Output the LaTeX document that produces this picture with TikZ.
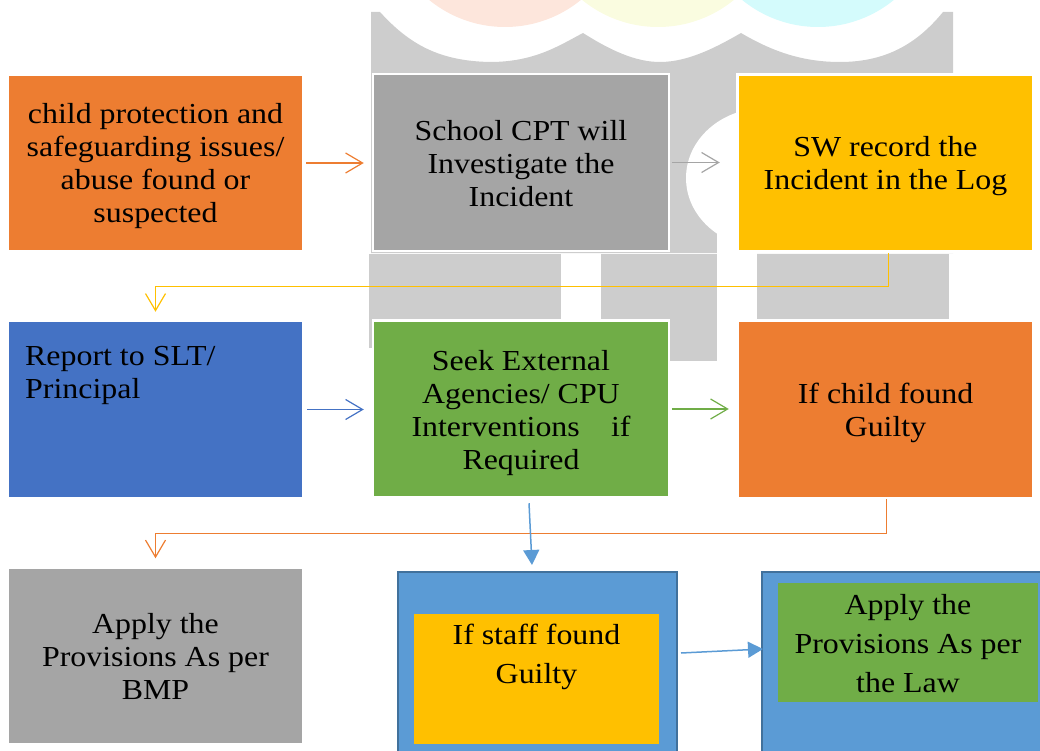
\documentclass[tikz,border=0pt]{standalone}
\usepackage{fontspec}
\setmainfont{Liberation Serif}[FakeStretch=1.1]
\usetikzlibrary{arrows.meta,calc}
\definecolor{corange}{HTML}{ED7D31}
\definecolor{cgray}{HTML}{A5A5A5}
\definecolor{cyellow}{HTML}{FFC000}
\definecolor{cblue}{HTML}{4472C4}
\definecolor{cgreen}{HTML}{70AD47}
\definecolor{clblue}{HTML}{5B9BD5}
\definecolor{cdblue}{HTML}{41719C}
\definecolor{wmgray}{HTML}{CDCDCD}
\definecolor{wmpink}{HTML}{FDE6DC}
\definecolor{wmyellow}{HTML}{FAFCE0}
\definecolor{wmcyan}{HTML}{D4FBFC}
\begin{document}
\begin{tikzpicture}[x=1pt,y=-1pt,
  box/.style={draw=white, line width=2.5pt, minimum width=296pt, minimum height=177pt, inner sep=0pt},
  txt/.style={inner sep=0pt, align=center, font=\fontsize{29}{33}\selectfont},
  flow/.style={line width=1.2pt, -{Straight Barb[length=17pt,width=20pt,line width=1.2pt]}},
  solidarrow/.style={line width=1.5pt, draw=clblue, -{Triangle[length=15pt,width=16pt]}},
  outerbox/.style={draw=cdblue, fill=clblue, line width=2pt, inner sep=0pt, anchor=north west},
]
\useasboundingbox (0,0) rectangle (1040,751);
\begin{scope}
\clip (0,0) rectangle (1040,751);
% watermark
\fill[wmpink] (505,-93) circle[radius=120pt];
\fill[wmyellow] (658,-93) circle[radius=120pt];
\fill[wmcyan] (818,-93) circle[radius=120pt];
\fill[wmgray] (371,253) -- (371,12) -- (380,12)
  .. controls (410,45) and (440,61) .. (490,62)
  .. controls (535,62) and (560,45) .. (583,33)
  .. controls (610,50) and (635,62) .. (660,62)
  .. controls (690,62) and (720,45) .. (741,33)
  .. controls (770,50) and (800,62) .. (840,62)
  .. controls (890,62) and (920,40) .. (943,12)
  -- (953,12) -- (953,253) -- cycle;
\fill[white] (765,178) ellipse[x radius=79pt, y radius=70pt];
\fill[white] (717,225) rectangle (757,330);
\fill[wmgray] (369,254) rectangle (561,319);
\fill[wmgray] (369,319) rectangle (375,348);
\fill[wmgray] (601,254) rectangle (717,361);
\fill[wmgray] (757,254) rectangle (949,319);

% boxes
\node[box, fill=corange] (a) at (155.5,163) {};
\node[txt] (at) at ($(a.center)+(0,3)$) {child protection and\\safeguarding issues/\\abuse found or\\suspected};
\node[box, fill=cgray] (b) at (521,162.5) {};
\node[txt] (bt) at ($(b.center)+(0,1)$) {School CPT will\\Investigate the\\Incident};
\node[box, fill=cyellow] (c) at (885.5,163) {};
\node[txt] (ct) at ($(c.center)+(0,3)$) {SW record the\\Incident in the Log};
\node[box, fill=cblue] (d) at (155.5,409.5) {};
\node[txt, align=left, anchor=north west] (dt) at (25,346) {Report to SLT/\\Principal};
\node[box, fill=cgreen] (e) at (521,409) {};
\node[txt] (et) at ($(e.center)+(0,4)$) {Seek External\\Agencies/ CPU\\Interventions\hspace{0.8em} if\\Required};
\node[box, fill=corange] (f) at (885.5,409.5) {};
\node[txt] (ft) at ($(f.center)+(0,3)$) {If child found\\Guilty};
\node[box, fill=cgray] (g) at (155.5,656) {};
\node[txt] (gt) at (g.center) {Apply the\\Provisions As per\\BMP};

\node[outerbox, minimum width=279pt, minimum height=190pt] (h) at (397,571) {};
\node[fill=cyellow, inner sep=0pt, minimum width=245pt, minimum height=130pt, anchor=north west] (hy) at (414,614) {};
\node[txt, font=\fontsize{29}{39}\selectfont, anchor=north] (ht) at (536.5,624) {If staff found\\Guilty};

\node[outerbox, minimum width=285pt, minimum height=190pt] (i) at (761,571) {};
\node[fill=cgreen, inner sep=0pt, minimum width=260pt, minimum height=119pt, anchor=north west] (ig) at (778,583) {};
\node[txt, font=\fontsize{29}{39}\selectfont, anchor=north] (it) at (908,594) {Apply the\\Provisions As per\\the Law};
\end{scope}

% connectors
\draw[flow, draw=corange, shorten <=1.5pt, shorten >=8pt] (a.east) -- (a.east -| b.west);
\draw[flow, draw=cgray, shorten <=1.5pt, shorten >=16.5pt] (b.east) -- (b.east -| c.west);
\draw[flow, draw=cyellow, shorten >=8pt] ($(c.south)+(3,0)$) -- ++(0,34) -| (d.north);
\draw[flow, draw=cblue, shorten <=2.5pt, shorten >=8pt] (d.east) -- (d.east -| e.west);
\draw[flow, draw=cgreen, shorten <=1.5pt, shorten >=7.5pt] (e.east) -- (e.east -| f.west);
\draw[flow, draw=corange, shorten >=8pt] ($(f.south)+(1,0)$) -- ++(0,34) -| (g.north);
\draw[solidarrow] ($(e.south)+(8,4.5)$) -- ($(h.north)+(-5.5,-6)$);
\draw[solidarrow] ($(h.east)+(3,-14)$) -- ($(i.west)+(2,-18)$);
\end{tikzpicture}
\end{document}
